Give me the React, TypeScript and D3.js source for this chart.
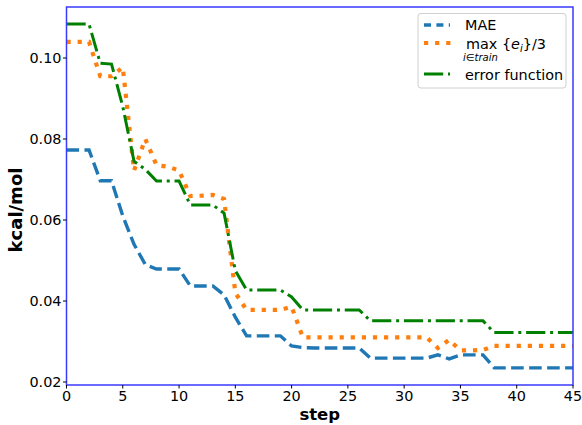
import React from "react";
import { scaleLinear, line } from "d3";

// values, one per step 0..45
const steps = Array.from({ length: 46 }, (_, i) => i);

const maeValues = [
  0.0773, 0.0773, 0.0773, 0.0697, 0.0697, 0.061, 0.054, 0.049, 0.0479, 0.0479,
  0.0479, 0.0437, 0.0437, 0.0437, 0.0415, 0.036, 0.0314, 0.0314, 0.0314, 0.0314,
  0.0289, 0.0285, 0.0284, 0.0284, 0.0284, 0.0284, 0.0284, 0.0259, 0.0259, 0.0259,
  0.0259, 0.0259, 0.0259, 0.0267, 0.0257, 0.0267, 0.0267, 0.0267, 0.0235, 0.0235,
  0.0235, 0.0235, 0.0235, 0.0235, 0.0235, 0.0235
];

const maxValues = [
  0.104, 0.104, 0.104, 0.0955, 0.0955, 0.0977, 0.0722, 0.08, 0.0735, 0.0732,
  0.0722, 0.0659, 0.066, 0.0662, 0.0652, 0.042, 0.0378, 0.0378, 0.0378, 0.0378,
  0.0386, 0.031, 0.031, 0.031, 0.031, 0.031, 0.031, 0.031, 0.031, 0.031,
  0.031, 0.031, 0.031, 0.0284, 0.0304, 0.0278, 0.0278, 0.0279, 0.0289, 0.0289,
  0.0289, 0.0289, 0.0289, 0.0289, 0.0289, 0.0289
];

const errValues = [
  0.1084, 0.1084, 0.1084, 0.0987, 0.0985, 0.088, 0.0745, 0.0725, 0.0696, 0.0696,
  0.0696, 0.0637, 0.0637, 0.0637, 0.0617, 0.0475, 0.0427, 0.0427, 0.0427, 0.0427,
  0.041, 0.0378, 0.0378, 0.0378, 0.0378, 0.0378, 0.0378, 0.0351, 0.0351, 0.0351,
  0.0351, 0.0351, 0.0351, 0.0351, 0.0351, 0.0351, 0.0351, 0.0351, 0.0322, 0.0322,
  0.0322, 0.0322, 0.0322, 0.0322, 0.0322, 0.0322
];

const xTicks = [0, 5, 10, 15, 20, 25, 30, 35, 40, 45];
const yTicks = [0.02, 0.04, 0.06, 0.08, 0.1];

export default function App() {
  const width = 582,
    height = 425,
    left = 66.5,
    right = 573,
    top = 7,
    bottom = 385;

  const x = scaleLinear().domain([0, 45]).range([left, right]);
  const y = scaleLinear().domain([0.02, 0.1]).range([382, 58]);

  const path = (vals: number[]) =>
    line<number>()
      .x((_, i) => x(steps[i]))
      .y(d => y(d))(vals) as string;

  const font = "DejaVu Sans, sans-serif";

  return (
    <svg
      width={width}
      height={height}
      style={{ position: "absolute", left: 0, top: 0, background: "white" }}
      fontFamily={font}
    >
      <defs>
        <clipPath id="plot">
          <rect x={left} y={top} width={right - left} height={bottom - top} />
        </clipPath>
      </defs>

      <g clipPath="url(#plot)" fill="none">
        <path d={path(maeValues)} stroke="#1f77b4" strokeWidth={3.4} strokeDasharray="12.6,5.4" />
        <path d={path(maxValues)} stroke="#ff7f0e" strokeWidth={4.2} strokeDasharray="4.2,6.9" />
        <path d={path(errValues)} stroke="#008000" strokeWidth={3} strokeDasharray="19.2,4.8,3,4.8" />
      </g>

      {/* axes frame */}
      <rect
        x={left}
        y={top}
        width={right - left}
        height={bottom - top}
        fill="none"
        stroke="#3a3aff"
        strokeWidth={1.5}
      />

      {xTicks.map(t => (
        <g key={t} transform={`translate(${x(t)},${bottom})`}>
          <line y2={3.5} stroke="black" strokeWidth={1} />
          <text y={15.5} fontSize={14.4} textAnchor="middle" fill="black">
            {t}
          </text>
        </g>
      ))}
      {yTicks.map(t => (
        <g key={t} transform={`translate(${left},${y(t)})`}>
          <line x2={-3.5} stroke="black" strokeWidth={1} />
          <text x={-5} y={5.2} fontSize={14.4} textAnchor="end" fill="black">
            {t.toFixed(2)}
          </text>
        </g>
      ))}

      <text x={(left + right) / 2} y={420} fontSize={16.5} fontWeight="bold" textAnchor="middle">
        step
      </text>
      <text
        transform={`translate(22,210) rotate(-90)`}
        fontSize={18}
        fontWeight="bold"
        textAnchor="middle"
      >
        kcal/mol
      </text>

      {/* legend */}
      <g>
        <rect x={418} y={13.5} width={148} height={74.5} rx={3} fill="white" fillOpacity={0.8} stroke="#d0d0d0" />
        <line x1={424} x2={450} y1={25} y2={25} stroke="#1f77b4" strokeWidth={3.4} strokeDasharray="7,5.4" />
        <text x={465} y={30.2} fontSize={14.4}>MAE</text>

        <line x1={424} x2={452} y1={43} y2={43} stroke="#ff7f0e" strokeWidth={4.2} strokeDasharray="4.2,6.9" />
        <text x={466} y={49} fontSize={14.4}>
          max {"{"}<tspan fontStyle="italic">e</tspan>
          <tspan fontStyle="italic" fontSize={10} dy={3}>i</tspan>
          <tspan dy={-3}>{"}"}/3</tspan>
        </text>
        <text x={463} y={61} fontSize={10} fontStyle="italic">
          i<tspan fontStyle="normal">∈</tspan>train
        </text>

        <line x1={424} x2={450} y1={74} y2={74} stroke="#008000" strokeWidth={3} strokeDasharray="19.2,4.8,3,4.8" />
        <text x={465} y={79.5} fontSize={14.4}>error function</text>
      </g>
    </svg>
  );
}
